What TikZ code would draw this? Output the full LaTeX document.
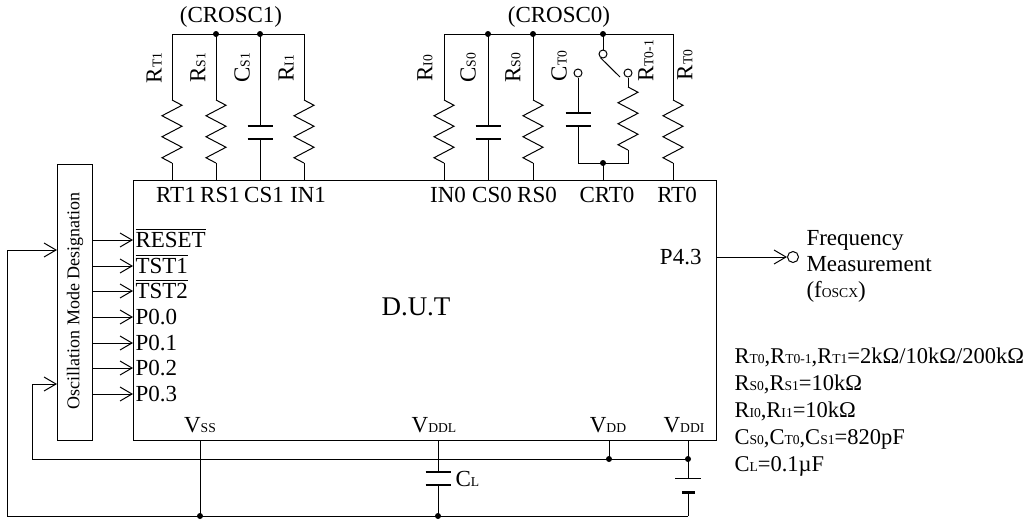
\documentclass[tikz,border=0pt]{standalone}
\usepackage{fontspec}
\setmainfont{Liberation Serif}
\usetikzlibrary{arrows.meta, positioning}
\newcommand\subt[1]{{\fontsize{6.8}{7}\selectfont #1}}
\tikzstyle{dot}=[circle, fill=black, inner sep=0pt, minimum size=3pt]
\tikzstyle{contact}=[circle, draw, fill=white, inner sep=0pt, minimum size=4pt]
\tikzstyle{inarrow}=[-{Straight Barb[length=6pt, width=7pt]}]
\tikzstyle{plate}=[line width=0.8pt]
\tikzstyle{pinlabel}=[inner sep=0pt, anchor=base]
\tikzstyle{vlabel}=[inner sep=0pt, rotate=90]
\tikzset{
  resistor/.pic={
    \coordinate (-a) at (0,0);
    \coordinate (-b) at (0,63);
    \draw (0,0) -- ++(10,5.25) -- ++(-20,10.5) -- ++(20,10.5) -- ++(-20,10.5)
      -- ++(20,10.5) -- ++(-20,10.5) -- ++(10,5.25);
  },
  capacitor/.pic={
    \coordinate (-a) at (0,0);
    \coordinate (-b) at (0,13);
    \draw[plate] (-12.5,0) -- (12.5,0) (-12.5,13) -- (12.5,13);
  }
}
\begin{document}
\begin{tikzpicture}[x=0.5pt, y=-0.5pt, line width=0.5pt, font=\fontsize{11.5}{13}\selectfont]
\useasboundingbox (0,0) rectangle (1033,521);

% device and mode box
\draw (133,180) rectangle (716,440);
\node[font=\fontsize{13.5}{16}\selectfont] (dut) at (416,307) {D.U.T};
\draw (57,164) rectangle (92,440);
\node[vlabel, font=\fontsize{9}{10}\selectfont] (osc) at (75,301) {Oscillation Mode Designation};

% top pins
\foreach \n/\x/\t in {rt1/172/RT1, rs1/216/RS1, cs1/260/CS1, in1/304/IN1,
                      in0/444/IN0, cs0/488/CS0, rs0/533/RS0, crt0/603/CRT0, rt0/673/RT0}
{
  \coordinate (p\n) at (\x,180);
  \coordinate (b\n) at (\x,34);
  \node[pinlabel] at (\x+4,202) {\t};
}

% CROSC1
\node (crosc1) at (231,17) {(CROSC1)};
\draw (brt1) -- (bin1);
\node[dot] at (brs1) {};
\node[dot] at (bcs1) {};
\foreach \n/\x in {rt1/172, rs1/216, in1/304}
{
  \pic (z\n) at (\x,100) {resistor};
  \draw (b\n) -- (z\n-a) (z\n-b) -- (p\n);
}
\pic (ccs1) at (260,126) {capacitor};
\draw (bcs1) -- (ccs1-a) (ccs1-b) -- (pcs1);
\node[vlabel] at (154,68) {R\subt{T1}};
\node[vlabel] at (198,68) {R\subt{S1}};
\node[vlabel] at (242,68) {C\subt{S1}};
\node[vlabel] at (286,68) {R\subt{I1}};

% CROSC0
\node (crosc0) at (559,17) {(CROSC0)};
\draw (bin0) -- (brt0);
\node[dot] at (bcs0) {};
\node[dot] at (brs0) {};
\node[dot] at (bcrt0) {};
\foreach \n/\x in {in0/444, rs0/533, rt0/673}
{
  \pic (z\n) at (\x,100) {resistor};
  \draw (b\n) -- (z\n-a) (z\n-b) -- (p\n);
}
\pic (ccs0) at (488,126) {capacitor};
\draw (bcs0) -- (ccs0-a) (ccs0-b) -- (pcs0);
\node[contact] (ksw) at (603,54) {};
\node[contact] (kct0) at (578,73) {};
\node[contact] (krt01) at (628,73) {};
\coordinate (swend) at (620,77);
\coordinate (jcrt) at (603,163);
\draw (bcrt0) -- (ksw);
\draw (ksw.-125) -- (swend);
\pic (cct0) at (578,113) {capacitor};
\pic (zrt01) at (628,87) {resistor};
\draw (kct0) -- (cct0-a) (cct0-b) |- (jcrt);
\draw (krt01) -- (zrt01-a) (zrt01-b) |- (jcrt);
\draw (jcrt) -- (pcrt0);
\node[dot] at (jcrt) {};
\node[vlabel] at (425,68) {R\subt{I0}};
\node[vlabel] at (468,68) {C\subt{S0}};
\node[vlabel] at (513,68) {R\subt{S0}};
\node[vlabel] at (559,66) {C\subt{T0}};
\node[vlabel] at (646,61) {R\subt{T0-1}};
\node[vlabel] at (685,65) {R\subt{T0}};

% mode inputs
\foreach \y/\t in {240/{$\overline{\mbox{RESET}}$}, 266/{$\overline{\mbox{TST1}}$},
                   291/{$\overline{\mbox{TST2}}$}, 317/P0.0, 343/P0.1, 368/P0.2, 394/P0.3}
{
  \draw[inarrow] (92,\y) -- (133,\y);
  \node[inner sep=0pt, anchor=base west] at (135,\y+7) {\t};
}

% frequency output
\coordinate (p43) at (716,257);
\node[inner sep=0pt, anchor=base east] at (702,264) {P4.3};
\node[contact, minimum size=5.5pt] (fout) at (793,257) {};
\draw[inarrow] (p43) -- (fout);
\node[anchor=west, align=left, inner sep=0pt] (fmeas) at (806,266)
  {Frequency\\Measurement\\(f\subt{OSCX})};

% supply pins
\coordinate (vss) at (200,440);
\coordinate (vddl) at (438,440);
\coordinate (vdd) at (609,440);
\coordinate (vddi) at (688,440);
\node[pinlabel] at (200,432) {V\subt{SS}};
\node[pinlabel] at (434,432) {V\subt{DDL}};
\node[pinlabel] at (608,432) {V\subt{DD}};
\node[pinlabel] at (684,432) {V\subt{DDI}};
\coordinate (jdd) at (609,459);
\coordinate (jddi) at (688,459);
\coordinate (lcorner) at (32,459);
\coordinate (gss) at (200,516);
\coordinate (gddl) at (438,516);
\coordinate (gbat) at (688,516);
\coordinate (gcorner) at (7,516);
\coordinate (oscA) at (57,250);
\coordinate (oscB) at (57,384);

\draw (vss) -- (gss);
\pic (ccl) at (438,472) {capacitor};
\draw (vddl) -- (ccl-a) (ccl-b) -- (gddl);
\node[anchor=west, inner sep=0pt] (cl) at (455,479) {C\subt{L}};
\draw (vdd) -- (jdd);
\draw (vddi) -- (688,478);
\draw (675,478) -- (701,478);
\draw[line width=1.5pt] (682,492) -- (695,492);
\draw (688,492) -- (gbat);
\draw[inarrow] (jddi) -- (lcorner) |- (oscB);
\draw[inarrow] (gbat) -- (gcorner) |- (oscA);
\foreach \j in {gss, gddl, jdd, jddi}
  \node[dot] at (\j) {};

% values
\node[anchor=west, align=left, inner sep=0pt, font=\fontsize{11.25}{13.5}\selectfont] (values) at (734,412)
  {R\subt{T0},R\subt{T0-1},R\subt{T1}=2kΩ/10kΩ/200kΩ\\
   R\subt{S0},R\subt{S1}=10kΩ\\
   R\subt{I0},R\subt{I1}=10kΩ\\
   C\subt{S0},C\subt{T0},C\subt{S1}=820pF\\
   C\subt{L}=0.1µF};
\end{tikzpicture}
\end{document}
